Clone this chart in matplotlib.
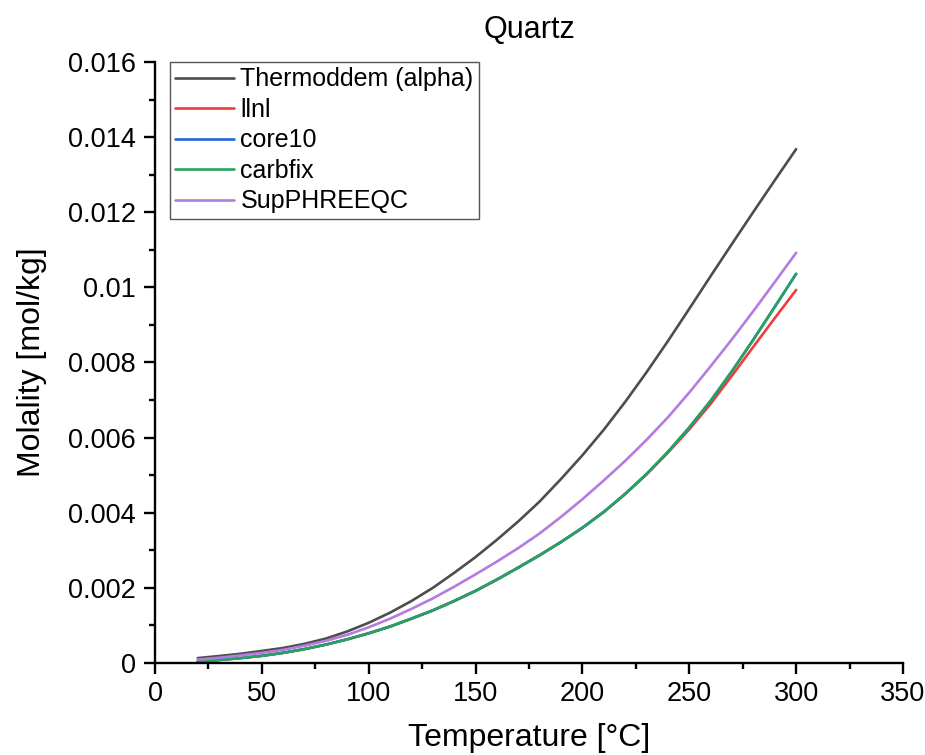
import matplotlib
matplotlib.use('Agg')
import matplotlib.pyplot as plt
from matplotlib.ticker import MultipleLocator, FuncFormatter

plt.rcParams['font.family'] = ['Liberation Sans', 'DejaVu Sans']

# temperature grid [°C]
temp = [20, 30, 40, 50, 60, 70, 80, 90, 100, 110, 120, 130, 140, 150, 160,
        170, 180, 190, 200, 210, 220, 230, 240, 250, 260, 270, 280, 290, 300]

# quartz solubility [mol/kg]
thermoddem = [0.000130, 0.000185, 0.000245, 0.000320, 0.000400, 0.000510, 0.000650,
              0.000840, 0.00107, 0.00134, 0.00165, 0.00200, 0.00240, 0.00282, 0.00328,
              0.00377, 0.00430, 0.00490, 0.00553, 0.00621, 0.00695, 0.00774, 0.00857,
              0.00943, 0.01030, 0.01116, 0.01201, 0.01285, 0.01368]
llnl = [0.000040, 0.000080, 0.000130, 0.000190, 0.000270, 0.000370, 0.000490,
        0.000630, 0.00079, 0.00097, 0.00118, 0.00140, 0.00165, 0.00192, 0.00222,
        0.00254, 0.00287, 0.00322, 0.00360, 0.00402, 0.00450, 0.00502, 0.00560,
        0.00622, 0.00690, 0.00765, 0.00842, 0.00918, 0.00993]
core10 = [0.000040, 0.000080, 0.000130, 0.000190, 0.000270, 0.000370, 0.000490,
          0.000630, 0.00079, 0.00097, 0.00118, 0.00140, 0.00165, 0.00192, 0.00222,
          0.00254, 0.00287, 0.00322, 0.00360, 0.00402, 0.00450, 0.00503, 0.00562,
          0.00627, 0.00698, 0.00777, 0.00861, 0.00948, 0.01036]
carbfix = [0.000040, 0.000080, 0.000130, 0.000190, 0.000270, 0.000370, 0.000490,
           0.000630, 0.00079, 0.00097, 0.00118, 0.00140, 0.00165, 0.00192, 0.00222,
           0.00254, 0.00287, 0.00322, 0.00360, 0.00402, 0.00450, 0.00503, 0.00562,
           0.00627, 0.00698, 0.00777, 0.00861, 0.00948, 0.01036]
supphreeqc = [0.000090, 0.000140, 0.000200, 0.000270, 0.000350, 0.000460, 0.000590,
              0.000750, 0.00095, 0.00118, 0.00144, 0.00172, 0.00203, 0.00236, 0.00270,
              0.00306, 0.00345, 0.00389, 0.00436, 0.00486, 0.00538, 0.00594, 0.00654,
              0.00720, 0.00790, 0.00862, 0.00937, 0.01014, 0.01092]

series = [('Thermoddem (alpha)', thermoddem, '#4d4d4d'),
          ('llnl', llnl, '#f03c3c'),
          ('core10', core10, '#2166d9'),
          ('carbfix', carbfix, '#27a35d'),
          ('SupPHREEQC', supphreeqc, '#b57be0')]

fig = plt.figure(figsize=(9.25, 7.55), dpi=100)
ax = fig.add_axes([0.1676, 0.1219, 0.8086, 0.796])

for name, vals, col in series:
    ax.plot(temp, vals, color=col, lw=1.9, label=name, solid_capstyle='round')

ax.set_xlim(0, 350)
ax.set_ylim(0, 0.016)
ax.xaxis.set_major_locator(MultipleLocator(50))
ax.xaxis.set_minor_locator(MultipleLocator(25))
ax.yaxis.set_major_locator(MultipleLocator(0.002))
ax.yaxis.set_minor_locator(MultipleLocator(0.001))
ax.yaxis.set_major_formatter(FuncFormatter(lambda v, p: f'{round(v, 6):g}'))

for s in ['top', 'right']:
    ax.spines[s].set_visible(False)
for s in ['left', 'bottom']:
    ax.spines[s].set_linewidth(1.7)

ax.tick_params(which='major', direction='out', length=8, width=1.7, labelsize=19.5)
ax.tick_params(which='minor', direction='out', length=4.5, width=1.7)
ax.tick_params(axis='y', which='major', pad=6)
ax.tick_params(axis='x', which='major', pad=5)

ax.set_xlabel('Temperature [°C]', fontsize=23)
ax.xaxis.set_label_coords(0.5, -0.1)
ax.set_ylabel('Molality [mol/kg]', fontsize=23)
ax.yaxis.set_label_coords(-0.144, 0.5)
ax.set_title('Quartz', fontsize=22, pad=17)

leg = ax.legend(loc='upper left', bbox_to_anchor=(0.02, 1.0), borderaxespad=0,
                fontsize=18, fancybox=False, edgecolor='#555555', framealpha=1,
                handlelength=2.36, handletextpad=0.24, labelspacing=0.26, borderpad=0.22)
leg.get_frame().set_linewidth(1.0)

fig.savefig('out.png', dpi=100)
